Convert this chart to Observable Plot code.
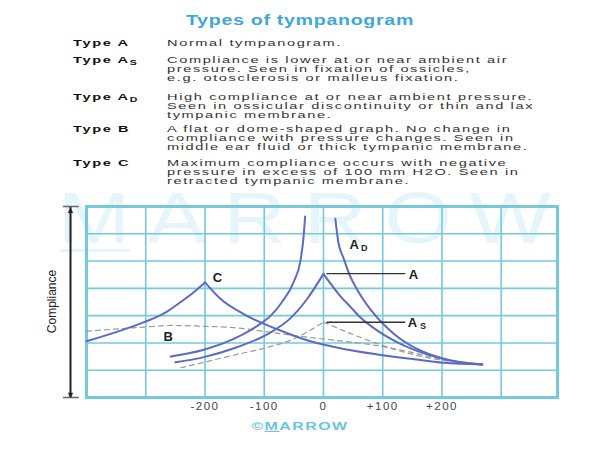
<!DOCTYPE html>
<html>
<head>
<meta charset="utf-8">
<script src="https://cdn.jsdelivr.net/npm/d3@7"></script>
<script src="https://cdn.jsdelivr.net/npm/@observablehq/plot@0.6"></script>
<style>
  body { margin: 0; background: #fff; font-family: "Liberation Sans", Arial, Helvetica, sans-serif; }
  #wrap { position: relative; width: 600px; height: 450px; overflow: hidden; }
  #header { position: relative; height: 190px; }
  .title { position: absolute; left: 0; width: 600px; text-align: center; font-size: 14px; line-height: 14px;
           font-weight: bold; letter-spacing: 0.5px; color: #40a8d8; transform: scaleX(1.4); transform-origin: 300px 50%; white-space: nowrap; }
  .hd { position: absolute; white-space: nowrap; font-size: 9px; line-height: 9px; letter-spacing: 1px;
        transform: scaleX(1.62); transform-origin: 0 50%; color: #333; }
  .hd.name { font-weight: bold; color: #111; }
  .hd sub { font-size: 6.5px; vertical-align: -2px; line-height: 0; }
  #watermark { position: absolute; left: 58px; top: 182px; font-size: 72px; line-height: 72px; color: #e6f5fa;
               letter-spacing: 15px; transform: scaleX(1.2); transform-origin: 0 50%; white-space: nowrap; z-index: 0; }
  #wmbar { position: absolute; left: 60px; top: 249px; width: 70px; height: 3px; background: #e6f5fa; z-index: 0; }
  #chart { position: relative; z-index: 1; }
  #credit { position: absolute; left: 0; width: 600px; top: 420px; text-align: center; font-size: 11px; line-height: 12px;
            font-weight: bold; letter-spacing: 1px; color: #6cc4df; transform: scaleX(1.45); transform-origin: 300px 50%; z-index: 2; }
  #credit u { text-decoration-color: #6cc4df; }
</style>
</head>
<body>
<div id="wrap">
  <div id="watermark">MARROW</div>
  <div id="wmbar"></div>
  <div id="header"></div>
  <div id="chart"></div>
  <div id="credit">©<u>M</u>ARROW</div>
</div>
<script>
// ---------- text content ----------
const chartTitle = "Types of tympanogram";
const typeNames = ["Type A", "Type A", "Type A", "Type B", "Type C"];
const typeSubs = ["", "S", "D", "", ""];
const typeDescriptions = [
  ["Normal tympanogram."],
  ["Compliance is lower at or near ambient air", "pressure. Seen in fixation of ossicles,", "e.g. otosclerosis or malleus fixation."],
  ["High compliance at or near ambient pressure.", "Seen in ossicular discontinuity or thin and lax", "tympanic membrane."],
  ["A flat or dome-shaped graph. No change in", "compliance with pressure changes. Seen in", "middle ear fluid or thick tympanic membrane."],
  ["Maximum compliance occurs with negative", "pressure in excess of 100 mm H2O. Seen in", "retracted tympanic membrane."]
];
const yAxisLabel = "Compliance";

// ---------- axis ----------
const pressureTicks = [-200, -100, 0, 100, 200];
const gridPressure = [-300, -200, -100, 0, 100, 200, 300];
const gridCompliance = [1, 2, 3, 4, 5, 6];

// ---------- curves: [pressure (mm H2O), compliance (grid units)] ----------
const typeA_neg = [[-250,1.29],[-202,1.48],[-146,1.84],[-89,2.39],[-56,2.9],[-28,3.6],[0,4.53]];
const typeA_pos = [[0,4.53],[29,3.7],[46,3.31],[62,2.94],[91,2.45],[124,2.03],[175,1.58],[214,1.36],[268,1.21]];
const typeAD_neg = [[-258,1.5],[-202,1.75],[-146,2.2],[-112,2.62],[-89,3.0],[-70,3.5],[-50,4.25],[-39,5.0],[-34,5.8],[-31,6.63]];
const typeAD_pos = [[20,6.55],[25,5.7],[34,5.1],[45,4.45],[57,3.95],[85,3.07],[119,2.33],[158,1.78],[203,1.42],[237,1.26],[268,1.21]];
const typeC_neg = [[-400,2.06],[-303,2.76],[-270,3.07],[-241,3.5],[-219,3.86],[-200,4.22]];
const typeC_pos = [[-200,4.22],[-174,3.62],[-134,3.05],[-78,2.5],[-22,2.06],[34,1.78],[91,1.58],[147,1.42],[203,1.27],[268,1.21]];
const typeB = [[-400,2.43],[-303,2.58],[-258,2.64],[-202,2.61],[-146,2.55],[-89,2.39],[-50,2.27],[-22,2.2],[34,2.06],[91,1.9],[147,1.66],[197,1.42],[268,1.21]];
const typeAS_neg = [[-241,1.09],[-202,1.29],[-146,1.58],[-101,1.8],[-50,2.15],[0,2.76]];
const typeAS_pos = [[0,2.76],[34,2.45],[51,2.3],[91,1.97],[147,1.6],[197,1.38],[268,1.21]];

// ---------- curve labels ----------
const curveLabels = [
  {p: -179, c: 4.37, t: "C"},
  {p: -262, c: 2.24, t: "B"},
  {p: 152, c: 4.51, t: "A"},
  {p: 52, c: 5.58, t: "A"},
  {p: 150, c: 2.72, t: "A"}
];
const curveSubLabels = [
  {p: 69, c: 5.49, t: "D"},
  {p: 168, c: 2.63, t: "S"}
];
const leaders = [
  {p1: 5, p2: 138, c: 4.54},
  {p1: 5, p2: 138, c: 2.76}
];
// compliance arrow (left of the grid)
const complianceArrow = [{p: -427, c1: 0, c2: 7}];
const arrowBars = [{p1: -440, p2: -413, c: 0}, {p1: -440, p2: -413, c: 7}];
const complianceLabelPos = [{p: -458, c: 3.52}];

// ---------- header ----------
const header = document.getElementById("header");
const rowTops = [43.3, 60, 97.3, 129.3, 163.3];
const lineStep = 9.3;
const t = document.createElement("div");
t.className = "title"; t.style.top = (20 - 7) + "px"; t.textContent = chartTitle;
header.appendChild(t);
typeNames.forEach((n, i) => {
  const d = document.createElement("div");
  d.className = "hd name";
  d.style.left = "73px"; d.style.top = (rowTops[i] - 4.5) + "px";
  d.textContent = n;
  if (typeSubs[i]) { const s = document.createElement("sub"); s.textContent = typeSubs[i]; d.appendChild(s); }
  header.appendChild(d);
  typeDescriptions[i].forEach((line, j) => {
    const e = document.createElement("div");
    e.className = "hd";
    e.style.left = "167px"; e.style.top = (rowTops[i] + j * lineStep - 4.5) + "px";
    e.textContent = line;
    header.appendChild(e);
  });
});

// ---------- chart ----------
const rows = [];
function addCurve(pts, branch, kind) { pts.forEach(([p, c]) => rows.push({p, c, branch, kind})); }
addCurve(typeA_neg, "A-", "solid"); addCurve(typeA_pos, "A+", "solid");
addCurve(typeAD_neg, "AD-", "solid"); addCurve(typeAD_pos, "AD+", "solid");
addCurve(typeC_neg, "C-", "solid"); addCurve(typeC_pos, "C+", "solid");
addCurve(typeB, "B", "dashed");
addCurve(typeAS_neg, "AS-", "dashed"); addCurve(typeAS_pos, "AS+", "dashed");

const gridColor = "#74c9dd";
const curveColor = "#5a6bc5";

const chart = Plot.plot({
  width: 600, height: 260,
  marginTop: 16, marginBottom: 53, marginLeft: 86, marginRight: 43,
  x: {domain: [-400, 395], axis: null},
  y: {domain: [0, 7], axis: null},
  style: {background: "transparent", overflow: "visible", fontFamily: "'Liberation Sans', Arial, sans-serif"},
  marks: [
    Plot.ruleX(gridPressure, {stroke: gridColor, strokeWidth: 1.6}),
    Plot.ruleY(gridCompliance, {stroke: gridColor, strokeWidth: 1.6}),
    Plot.frame({stroke: gridColor, strokeWidth: 3}),
    Plot.line(rows.filter(d => d.kind === "dashed"), {x: "p", y: "c", z: "branch", curve: "monotone-x",
      stroke: "#9a9a9a", strokeWidth: 1.2, strokeDasharray: "5,4"}),
    Plot.line(rows.filter(d => d.kind === "solid"), {x: "p", y: "c", z: "branch", curve: "monotone-x",
      stroke: curveColor, strokeWidth: 2}),
    Plot.link(leaders, {x1: "p1", x2: "p2", y1: "c", y2: "c", stroke: "#333", strokeWidth: 1.4}),
    Plot.text(curveLabels, {x: "p", y: "c", text: "t", fontSize: 13, fontWeight: "bold", fill: "#222"}),
    Plot.text(curveSubLabels, {x: "p", y: "c", text: "t", fontSize: 9, fontWeight: "bold", fill: "#222"}),
    Plot.link(complianceArrow, {x1: "p", x2: "p", y1: "c1", y2: "c2", stroke: "#222", strokeWidth: 2}),
    Plot.link(arrowBars, {x1: "p1", x2: "p2", y1: "c", y2: "c", stroke: "#666", strokeWidth: 1.5}),
    Plot.text(complianceArrow, {x: "p", y: "c2", text: () => "▲", fontSize: 9, lineAnchor: "top", fill: "#222"}),
    Plot.text(complianceArrow, {x: "p", y: "c1", text: () => "▼", fontSize: 9, lineAnchor: "bottom", fill: "#222"}),
    Plot.text(complianceLabelPos, {x: "p", y: "c", text: () => yAxisLabel, rotate: -90, fontSize: 12,
      fontFamily: "'Liberation Sans Narrow', 'Arial Narrow', sans-serif", fill: "#222"}),
    Plot.axisX({ticks: pressureTicks, tickSize: 0, tickPadding: 4, fontSize: 11.5, fill: "#444",
      tickFormat: d => d > 0 ? "+" + d : String(d)})
  ]
});
document.getElementById("chart").appendChild(chart);
d3.select(chart).selectAll('g[aria-label="x-axis tick label"] text').attr("letter-spacing", "1.5px");
</script>
</body>
</html>
